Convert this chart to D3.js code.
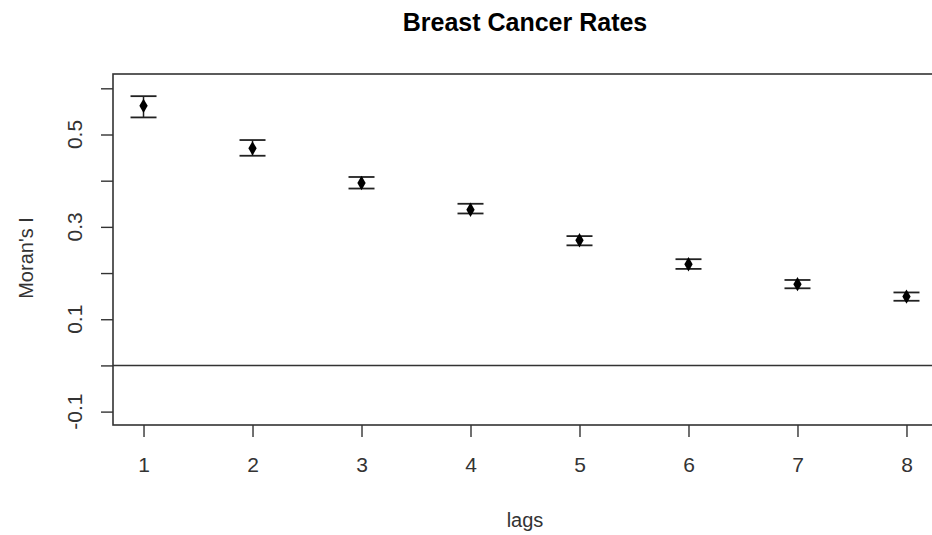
<!DOCTYPE html>
<html>
<head>
<meta charset="utf-8">
<script src="https://cdn.jsdelivr.net/npm/d3@7"></script>
<style>
  body { margin: 0; background: #fff; }
  svg { display: block; font-family: "Liberation Sans", Arial, sans-serif; }
  .tick-label { font-size: 21px; fill: #333; }
  .label-text { font-size: 20px; fill: #333; }
</style>
</head>
<body>
<script>
// Moran's I correlogram values
var lags = [1, 2, 3, 4, 5, 6, 7, 8];
var moranI = [0.562, 0.470, 0.395, 0.337, 0.271, 0.219, 0.176, 0.149];
var upper = [0.583, 0.488, 0.408, 0.350, 0.280, 0.230, 0.185, 0.158];
var lower = [0.537, 0.454, 0.383, 0.329, 0.260, 0.209, 0.167, 0.140];
var yTicks = [-0.1, 0, 0.1, 0.2, 0.3, 0.4, 0.5, 0.6];
var yLabels = ["-0.1", "0.1", "0.3", "0.5"];

var W = 932, H = 535;
var plot = {left: 113, right: 937, top: 74, bottom: 425};

var data = lags.map(function(d, i) {
    return {lag: d, value: moranI[i], hi: upper[i], lo: lower[i]};
});

var xScale = d3.scaleLinear()
    .domain([0.72, 8.28])
    .range([plot.left, plot.right]);

var yScale = d3.scaleLinear()
    .domain([-0.129, 0.631])
    .range([plot.bottom, plot.top]);

var svg = d3.select("body").append("svg")
    .attr("width", W)
    .attr("height", H);

// frame
svg.append("rect")
    .attr("x", plot.left)
    .attr("y", plot.top)
    .attr("width", plot.right - plot.left)
    .attr("height", plot.bottom - plot.top)
    .attr("fill", "none")
    .attr("stroke", "#333")
    .attr("stroke-width", 1.6);

// x axis (R style: ticks below, labels further down)
var xAxis = d3.axisBottom(xScale)
    .tickValues(lags)
    .tickSize(12)
    .tickPadding(20)
    .tickFormat(d3.format("d"));

var gx = svg.append("g")
    .attr("transform", "translate(0," + plot.bottom + ")")
    .call(xAxis);
gx.select(".domain").remove();
gx.selectAll("line").attr("stroke", "#333").attr("stroke-width", 1.4);
gx.selectAll("text")
    .attr("class", "tick-label")
    .attr("fill", null);

// y axis
var yAxis = d3.axisLeft(yScale)
    .tickValues(yTicks)
    .tickSize(12)
    .tickFormat("");

var gy = svg.append("g")
    .attr("transform", "translate(" + plot.left + ",0)")
    .call(yAxis);
gy.select(".domain").remove();
gy.selectAll("line").attr("stroke", "#333").attr("stroke-width", 1.4);

svg.selectAll(".ylab")
    .data(yLabels)
    .enter()
    .append("text")
    .attr("class", "tick-label")
    .attr("text-anchor", "middle")
    .attr("dominant-baseline", "central")
    .attr("transform", function(d) {
        return "translate(74," + yScale(+d) + ") rotate(-90)";
    })
    .text(function(d) { return d; });

// reference line at zero
svg.append("line")
    .attr("x1", plot.left)
    .attr("x2", W)
    .attr("y1", yScale(0))
    .attr("y2", yScale(0))
    .attr("stroke", "#333")
    .attr("stroke-width", 1.5);

// error bars
var bars = svg.selectAll(".bar")
    .data(data)
    .enter()
    .append("g")
    .attr("class", "bar");

bars.append("line")
    .attr("x1", function(d) { return xScale(d.lag); })
    .attr("x2", function(d) { return xScale(d.lag); })
    .attr("y1", function(d) { return yScale(d.hi); })
    .attr("y2", function(d) { return yScale(d.lo); })
    .attr("stroke", "#222")
    .attr("stroke-width", 1.5);

["hi", "lo"].forEach(function(k) {
    bars.append("line")
        .attr("x1", function(d) { return xScale(d.lag) - 13; })
        .attr("x2", function(d) { return xScale(d.lag) + 13; })
        .attr("y1", function(d) { return yScale(d[k]); })
        .attr("y2", function(d) { return yScale(d[k]); })
        .attr("stroke", "#222")
        .attr("stroke-width", 1.8);
});

bars.append("path")
    .attr("d", d3.symbol().type(d3.symbolDiamond).size(60))
    .attr("transform", function(d) {
        return "translate(" + xScale(d.lag) + "," + yScale(d.value) + ")";
    })
    .attr("fill", "#000");

// titles
svg.append("text")
    .attr("x", (plot.left + plot.right) / 2)
    .attr("y", 22)
    .attr("text-anchor", "middle")
    .attr("dominant-baseline", "central")
    .style("font-size", "25px")
    .style("font-weight", "bold")
    .text("Breast Cancer Rates");

svg.append("text")
    .attr("class", "label-text")
    .attr("x", (plot.left + plot.right) / 2)
    .attr("y", 520)
    .attr("text-anchor", "middle")
    .attr("dominant-baseline", "central")
    .text("lags");

svg.append("text")
    .attr("class", "label-text")
    .attr("text-anchor", "middle")
    .attr("dominant-baseline", "central")
    .attr("transform", "translate(26,258) rotate(-90)")
    .text("Moran's  I");
</script>
</body>
</html>
